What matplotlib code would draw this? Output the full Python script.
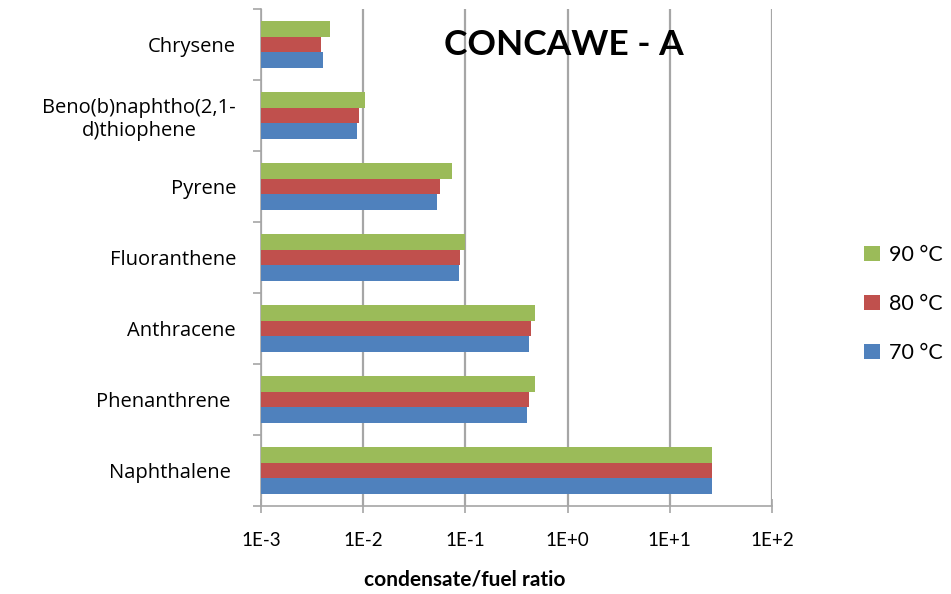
import numpy as np
import matplotlib
matplotlib.use("Agg")
import matplotlib.pyplot as plt
from matplotlib.ticker import FixedLocator, NullFormatter

plt.rcParams['font.family'] = ['Lato', 'DejaVu Sans']

# data (bottom to top as drawn)
compounds = ["Naphthalene ", "Phenanthrene ", "Anthracene", "Fluoranthene",
             "Pyrene", "Beno(b)naphtho(2,1-\nd)thiophene", "Chrysene"]
t70 = [25.7, 0.40, 0.42, 0.086, 0.053, 0.0086, 0.0040]
t80 = [25.7, 0.42, 0.44, 0.088, 0.056, 0.0090, 0.0039]
t90 = [25.7, 0.48, 0.48, 0.099, 0.074, 0.0104, 0.0047]
series = [("70 °C", t70, "#4F81BD"), ("80 °C", t80, "#C0504D"), ("90 °C", t90, "#9BBB59")]
xticks = [1e-3, 1e-2, 1e-1, 1e0, 1e1, 1e2]
xticklabels = ["1E-3", "1E-2", "1E-1", "1E+0", "1E+1", "1E+2"]

fig = plt.figure(figsize=(9.51, 5.94), dpi=100)
ax = fig.add_axes([261/951, 1-506/594, (772-261)/951, (506-9)/594])

y = np.arange(len(compounds))
h = 0.217
handles = []
for i, (name, vals, col) in enumerate(series):
    b = ax.barh(y + (i - 1) * h, vals, height=h, color=col, label=name, zorder=3)
    handles.append(b)

ax.set_xscale("log")
ax.set_xlim(1e-3, 1e2)
ax.set_ylim(-0.5, len(compounds) - 0.5)
ax.set_xticks(xticks)
ax.set_xticklabels(xticklabels)
ax.xaxis.set_minor_locator(FixedLocator([]))
ax.set_yticks(y)
ax.set_yticklabels(compounds, family=['Open Sans', 'DejaVu Sans'])
for lab in ax.get_yticklabels():
    lab.set_multialignment("center")
ax.yaxis.set_minor_locator(FixedLocator(np.arange(-0.5, len(compounds), 1.0)))
ax.yaxis.set_minor_formatter(NullFormatter())

gray = "#a6a6a6"
ax.grid(axis="x", color=gray, lw=1.6, zorder=0)
for s in ["top", "right"]:
    ax.spines[s].set_visible(False)
for s in ["left", "bottom"]:
    ax.spines[s].set_color(gray)
    ax.spines[s].set_linewidth(1.2)
ax.tick_params(axis="y", which="major", length=0, pad=18, labelsize=14.5, labelcolor="black")
ax.tick_params(axis="y", which="minor", length=6, color=gray, width=1.2)
ax.tick_params(axis="x", which="major", direction="inout", length=10, color=gray,
               width=1.2, pad=14, labelsize=13.5)

ax.text(0.592, 0.927, "CONCAWE - A", transform=ax.transAxes, ha="center", va="center",
        fontsize=25.5, fontweight="bold")
fig.text(465/951, 1-579/594, "condensate/fuel ratio", ha="center", va="center",
         fontsize=15, fontweight="bold")

fig.legend(handles[::-1], [s[0] for s in series][::-1], loc="center left",
           bbox_to_anchor=(855/951, 1-304/594), frameon=False, fontsize=15.5,
           handlelength=0.75, handleheight=0.75, handletextpad=0.45, labelspacing=1.35,
           borderaxespad=0)

fig.savefig("out.png", dpi=100)
